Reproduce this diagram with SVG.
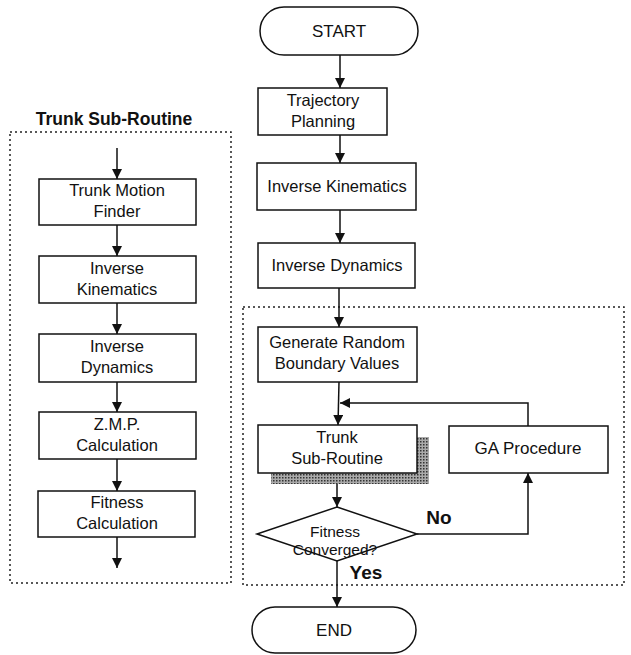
<svg xmlns="http://www.w3.org/2000/svg" width="631" height="655" viewBox="0 0 631 655">
<style>
.box{fill:#fff;stroke:#111;stroke-width:1.5}
.dash{fill:none;stroke:#222;stroke-width:1.5;stroke-dasharray:2 3}
.ln{fill:none;stroke:#111;stroke-width:1.5}
text{font-family:"Liberation Sans",Arial,sans-serif;fill:#111;font-size:16.5px;text-anchor:middle}
.b{font-weight:bold}
</style>
<defs>
<marker id="ah" viewBox="0 0 10 10" refX="10" refY="5" markerWidth="10" markerHeight="10" markerUnits="userSpaceOnUse" orient="auto">
<path d="M0,0 L10,5 L0,10 z" fill="#111"/>
</marker>
<pattern id="hatch" width="3" height="3" patternUnits="userSpaceOnUse">
<rect width="3" height="3" fill="#aaa"/>
<rect width="1.5" height="1.5" fill="#333"/>
</pattern>
</defs>
<rect width="631" height="655" fill="#fff"/>
<g id="frames">
<rect class="dash" x="10" y="132" width="221" height="451"/>
<rect class="dash" x="243" y="307" width="381" height="278"/>
</g>
<g id="title"><text class="b" x="114" y="125" style="font-size:17.5px">Trunk Sub-Routine</text></g>
<g id="connectors">
<line class="ln" x1="117" y1="148" x2="117" y2="179" marker-end="url(#ah)"/>
<line class="ln" x1="117" y1="225" x2="117" y2="256" marker-end="url(#ah)"/>
<line class="ln" x1="117" y1="303" x2="117" y2="334" marker-end="url(#ah)"/>
<line class="ln" x1="117" y1="382" x2="117" y2="412" marker-end="url(#ah)"/>
<line class="ln" x1="117" y1="459" x2="117" y2="491" marker-end="url(#ah)"/>
<line class="ln" x1="117" y1="537" x2="117" y2="568" marker-end="url(#ah)"/>
<line class="ln" x1="340" y1="55" x2="340" y2="88" marker-end="url(#ah)"/>
<line class="ln" x1="340" y1="135" x2="340" y2="163" marker-end="url(#ah)"/>
<line class="ln" x1="340" y1="210" x2="340" y2="243" marker-end="url(#ah)"/>
<line class="ln" x1="339" y1="288" x2="339" y2="327" marker-end="url(#ah)"/>
<line class="ln" x1="339" y1="382" x2="338" y2="425" marker-end="url(#ah)"/>
<polyline class="ln" points="528,426 528,403 340,403" marker-end="url(#ah)"/>
<line class="ln" x1="337" y1="473" x2="337" y2="507" marker-end="url(#ah)"/>
<polyline class="ln" points="417,534 528,534 528,473" marker-end="url(#ah)"/>
<line class="ln" x1="337" y1="561" x2="337" y2="607" marker-end="url(#ah)"/>
<text class="b" x="439" y="524" style="font-size:19px">No</text>
<text class="b" x="366" y="579" style="font-size:19px">Yes</text>
</g>
<g id="trunk-motion-finder"><rect class="box" x="39" y="179" width="157" height="46"/><text x="117" y="196">Trunk Motion</text><text x="117" y="217">Finder</text></g>
<g id="left-inverse-kinematics"><rect class="box" x="39" y="256" width="157" height="47"/><text x="117" y="274">Inverse</text><text x="117" y="295">Kinematics</text></g>
<g id="left-inverse-dynamics"><rect class="box" x="39" y="334" width="157" height="48"/><text x="117" y="352">Inverse</text><text x="117" y="373">Dynamics</text></g>
<g id="zmp-calculation"><rect class="box" x="39" y="412" width="157" height="47"/><text x="117" y="430">Z.M.P.</text><text x="117" y="451">Calculation</text></g>
<g id="fitness-calculation"><rect class="box" x="38" y="491" width="157" height="46"/><text x="117" y="508">Fitness</text><text x="117" y="529">Calculation</text></g>
<g id="start"><rect class="box" x="260" y="7" width="158" height="48" rx="24" ry="24"/><text x="339" y="37" style="font-size:17px">START</text></g>
<g id="trajectory-planning"><rect class="box" x="258" y="88" width="129" height="47"/><text x="323" y="106">Trajectory</text><text x="323" y="127">Planning</text></g>
<g id="inverse-kinematics"><rect class="box" x="257" y="163" width="159" height="47"/><text x="337" y="192">Inverse Kinematics</text></g>
<g id="inverse-dynamics"><rect class="box" x="258" y="243" width="157" height="45"/><text x="337" y="271">Inverse Dynamics</text></g>
<g id="generate-random"><rect class="box" x="258" y="327" width="159" height="55"/><text x="337" y="348">Generate Random</text><text x="337" y="369">Boundary Values</text></g>
<g id="trunk-sub-routine">
<path d="M417,437 H429 V484 H271 V473 H417 Z" fill="url(#hatch)"/>
<rect class="box" x="258" y="425" width="159" height="48"/><text x="337" y="443">Trunk</text><text x="337" y="464">Sub-Routine</text></g>
<g id="ga-procedure"><rect class="box" x="449" y="426" width="159" height="47"/><text x="528" y="454" style="font-size:17px">GA Procedure</text></g>
<g id="fitness-converged"><polygon class="box" points="337,507 417,534 337,561 257,534"/><text x="335" y="537" style="font-size:15.5px">Fitness</text><text x="335" y="555" style="font-size:15.5px">Converged?</text></g>
<g id="end"><rect class="box" x="252" y="607" width="164" height="46" rx="23" ry="23"/><text x="334" y="636" style="font-size:17px">END</text></g>
</svg>
